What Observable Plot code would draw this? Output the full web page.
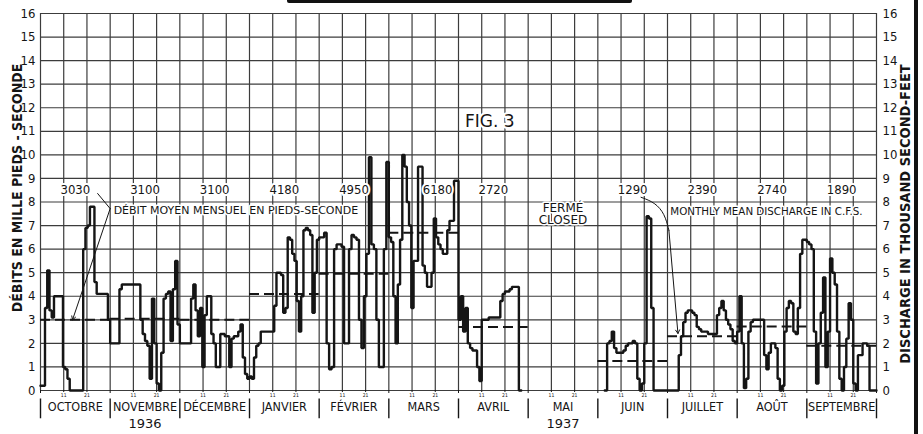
<!DOCTYPE html>
<html><head><meta charset="utf-8">
<script src="https://cdn.jsdelivr.net/npm/d3@7"></script>
<script src="https://cdn.jsdelivr.net/npm/@observablehq/plot@0.6"></script>
<style>
html,body{margin:0;padding:0;background:#fff;}
#wrap{position:relative;width:923px;height:434px;overflow:hidden;background:#fff;}
#topbar{position:absolute;left:287px;top:0;width:345px;height:3px;background:#111;border-radius:0 0 2px 2px;}
#rightbar{position:absolute;left:914px;top:0;width:4px;height:434px;background:#111;}
</style></head><body>
<div id="wrap"><div id="chart"></div><div id="topbar"></div><div id="rightbar"></div></div>
<script>
// Month labels (hydrological year Oct 1936 - Sep 1937)
const months = ["OCTOBRE","NOVEMBRE","DÉCEMBRE","JANVIER","FÉVRIER","MARS","AVRIL","MAI","JUIN","JUILLET","AOÛT","SEPTEMBRE"];
const daysInMonth = [31,30,31,31,28,31,30,31,30,31,31,30];
const years = ["1936","1937"];

// Daily discharge, thousand second-feet (null = no record)
const oct1936 = [0.2,0.2,3.5,5.1,3.4,3.1,4.0,4.0,4.0,4.0,1.0,0.9,0.5,0,0,0,0,0,0,6.0,6.9,7.0,7.8,7.8,4.6,4.1,4.1,4.1,4.1,4.1,3.0];
const nov1936 = [2.0,2.0,2.0,2.0,4.3,4.5,4.5,4.5,4.5,4.5,4.5,4.5,4.5,3.0,2.4,2.1,1.9,0.5,3.9,2.0,0.3,0,1.6,3.9,4.1,4.2,2.1,4.3,5.5,2.8];
const dec1936 = [2.0,2.0,2.0,2.0,2.0,3.9,4.5,3.4,2.3,3.5,1.0,3.2,4.0,4.0,2.4,2.0,1.0,1.0,2.4,2.4,2.3,2.3,1.0,2.2,2.3,2.3,2.5,2.8,1.4,0.7,0.5];
const jan1937 = [0.6,0.5,1.4,1.9,2.0,2.5,2.5,2.5,2.5,2.5,2.5,3.6,5.0,5.0,4.9,3.3,3.5,6.5,6.4,5.8,5.5,3.8,2.5,4.0,6.8,6.9,6.8,6.6,3.3,5.0,6.4];
const feb1937 = [6.5,6.5,6.7,2.0,0.9,1.0,6.0,6.2,6.2,6.1,2.0,2.0,6.0,6.6,6.5,6.4,3.0,1.8,4.0,5.8,9.9,6.2,6.0,3.0,1.0,1.0,6.0,9.7];
const mar1937 = [6.5,6.3,4.0,2.0,4.5,6.4,10.0,9.5,8.0,7.0,3.5,5.5,5.5,9.5,9.5,5.3,5.0,4.4,4.4,5.0,7.3,6.5,6.2,6.0,5.8,5.8,6.8,7.2,7.2,8.9,8.9];
const apr1937 = [3.0,4.0,2.5,3.5,2.0,1.8,1.7,1.7,1.0,0.4,3.0,3.0,3.0,3.1,3.1,3.1,3.1,3.1,3.8,4.1,4.2,4.2,4.3,4.4,4.4,4.4,0,null,null,null];
const mai1937 = []; // fermé / closed
const jun1937 = [null,null,null,0,2.0,2.1,2.5,1.8,1.6,1.6,1.6,1.7,1.9,2.0,2.0,2.1,2.0,0.5,0,0.3,2.0,7.4,7.3,3.5,0,0,0,0,0,0];
const jul1937 = [0,0,0,0,0,1.5,2.3,2.9,3.3,3.4,3.4,3.3,3.2,2.7,2.6,2.5,2.5,2.5,2.4,2.4,2.4,2.4,3.2,3.5,3.8,3.4,3.0,2.8,2.6,2.1,2.0];
const aug1937 = [2.5,4.0,2.0,0.1,0.5,2.5,2.9,3.0,3.0,3.0,3.0,3.0,1.5,0.9,1.6,2.0,2.0,1.8,0.5,0,0.2,2.5,3.5,3.8,3.7,2.5,2.4,3.5,5.8,6.4,6.4];
const sep1937 = [6.3,6.2,6.0,2.5,0.3,2.0,3.3,4.8,1.0,2.5,5.6,5.0,4.5,2.5,0.5,0,1.0,2.2,3.7,3.0,0.3,0,1.5,1.5,2.0,2.0,1.9,0,0,0];

// Monthly means: printed values (c.f.s.) and level of the dashed line as drawn
const meanLabels = ["3030","3100","3100","4180","4950","6180","2720","","1290","2390","2740","1890"];
const meanLevels = [3.0,3.05,3.0,4.1,4.95,6.7,2.7,null,1.25,2.3,2.72,1.9];

const yTicks = [0,1,2,3,4,5,6,7,8,9,10,11,12,13,14,15,16];

const flowMonths = [oct1936,nov1936,dec1936,jan1937,feb1937,mar1937,apr1937,mai1937,jun1937,jul1937,aug1937,sep1937];

const pts = [];
flowMonths.forEach((vals, i) => {
  const n = daysInMonth[i];
  for (let d = 0; d < n; d++) {
    const v = vals[d];
    if (v == null) { pts.push({x: i + d / n, y: NaN}); continue; }
    pts.push({x: i + d / n, y: v}, {x: i + (d + 1) / n, y: v});
  }
});

const meanData = meanLevels.map((v, i) => ({i, v, label: meanLabels[i]})).filter(d => d.v != null);
const thirds = d3.range(37).map(k => k / 3);
const dayTicks = thirds.filter((t, k) => k % 3 !== 0);
const monthEdges = d3.range(13);

// annotation anchors (data space)
const leaderFr = [{x: 0.82, y: 8.36}, {x: 1.0, y: 7.72}];
const leaderFrTip = {x: 0.46, y: meanLevels[0]};
const leaderEn = [{x: 8.62, y: 8.2}, {x: 8.82, y: 7.98}, {x: 8.96, y: 7.5}, {x: 9.02, y: 6.8}];
const leaderEnTip = {x: 9.15, y: meanLevels[9] + 0.12};
const sepBand = [-0.36, -1.2]; // month separator band below the axis (in axis units)

const COND = '"DejaVu Sans Condensed","Liberation Sans Narrow","DejaVu Sans",sans-serif';
const NORM = '"DejaVu Sans",sans-serif';
const INK = "#151515";
const GRID = "#3c3c3c";

const chart = Plot.plot({
  width: 923, height: 434,
  marginLeft: 40, marginRight: 47, marginTop: 13, marginBottom: 44,
  style: {fontFamily: COND, background: "#fff", color: INK, overflow: "visible"},
  x: {domain: [0, 12]},
  y: {domain: [0, 16]},
  marks: [
    Plot.ruleX(thirds, {y1: 0, y2: 16, stroke: GRID, strokeWidth: 1.2}),
    Plot.ruleY(yTicks, {x1: 0, x2: 12, stroke: GRID, strokeWidth: 1.2}),
    Plot.ruleY(meanData, {x1: d => d.i, x2: d => d.i + 1, y: "v", stroke: INK, strokeWidth: 2, strokeDasharray: "10,5"}),
    Plot.line(pts, {x: "x", y: "y", stroke: INK, strokeWidth: 2.4, strokeLinejoin: "miter"}),
    // monthly mean labels
    Plot.text(meanData, {x: d => d.i + (d.i === 5 ? 0.7 : 0.5), y: 8.5, text: "label", fontSize: 13, fill: INK, stroke: "#fff", strokeWidth: 4, paintOrder: "stroke"}),
    // leaders
    Plot.line(leaderFr, {x: "x", y: "y", stroke: INK, strokeWidth: 1}),
    Plot.arrow([{a: leaderFr[1], b: leaderFrTip}], {x1: d => d.a.x, y1: d => d.a.y, x2: d => d.b.x, y2: d => d.b.y, stroke: INK, strokeWidth: 1, headLength: 6}),
    Plot.line(leaderEn, {x: "x", y: "y", stroke: INK, strokeWidth: 1, curve: "basis"}),
    Plot.arrow([{a: leaderEn[3], b: leaderEnTip}], {x1: d => d.a.x, y1: d => d.a.y, x2: d => d.b.x, y2: d => d.b.y, stroke: INK, strokeWidth: 1, headLength: 6}),
    Plot.text(["DÉBIT MOYEN MENSUEL EN PIEDS-SECONDE"], {x: 1.05, y: 7.64, textAnchor: "start", fontFamily: NORM, fontSize: 11, fill: INK, stroke: "#fff", strokeWidth: 3, paintOrder: "stroke"}),
    Plot.text(["MONTHLY MEAN DISCHARGE IN C.F.S."], {x: 9.04, y: 7.6, textAnchor: "start", fontFamily: NORM, fontSize: 10.3, fill: INK, stroke: "#fff", strokeWidth: 3, paintOrder: "stroke"}),
    Plot.text(["FIG. 3"], {x: 6.45, y: 11.4, fontFamily: NORM, fontSize: 17, fill: INK, stroke: "#fff", strokeWidth: 4, paintOrder: "stroke"}),
    Plot.text(["FERMÉ\nCLOSED"], {x: 7.5, y: 7.5, fontFamily: NORM, fontSize: 12, lineHeight: 1.05, fill: INK, stroke: "#fff", strokeWidth: 3, paintOrder: "stroke"}),
    // axes
    Plot.axisY(yTicks, {anchor: "left", tickSize: 0, tickPadding: 5, fontSize: 13, label: null}),
    Plot.axisY(yTicks, {anchor: "right", tickSize: 0, tickPadding: 6, fontSize: 13, label: null}),
    Plot.axisX(dayTicks, {anchor: "bottom", tickSize: 2, tickPadding: 0.5, fontSize: 5, tickFormat: t => (Math.round(t * 3) % 3 === 1 ? "11" : "21"), label: null}),
    Plot.axisX(monthEdges, {anchor: "bottom", tickSize: 3, tickFormat: () => "", label: null}),
    Plot.ruleX(monthEdges, {y1: sepBand[0], y2: sepBand[1], stroke: INK, strokeWidth: 1.4}),
    Plot.axisX(d3.range(12).map(i => i + 0.5), {anchor: "bottom", tickSize: 0, tickPadding: 12, fontSize: 12.5, tickFormat: t => months[Math.floor(t)], label: null}),
    Plot.axisX([1.5, 7.5], {anchor: "bottom", tickSize: 0, tickPadding: 28.5, fontFamily: NORM, fontSize: 13, tickFormat: t => (t < 6 ? years[0] : years[1]), label: null}),
    Plot.text(["DÉBITS EN MILLE PIEDS - SECONDE"], {frameAnchor: "left", dx: -23, dy: -14, rotate: -90, textAnchor: "middle", lineAnchor: "middle", fontSize: 14, fontWeight: "bold", fill: INK}),
    Plot.text(["DISCHARGE IN THOUSAND SECOND-FEET"], {frameAnchor: "right", dx: 29, dy: 12, rotate: -90, textAnchor: "middle", lineAnchor: "middle", fontSize: 14.5, fontWeight: "bold", fill: INK})
  ]
});
document.getElementById("chart").appendChild(chart);
</script>
</body></html>
